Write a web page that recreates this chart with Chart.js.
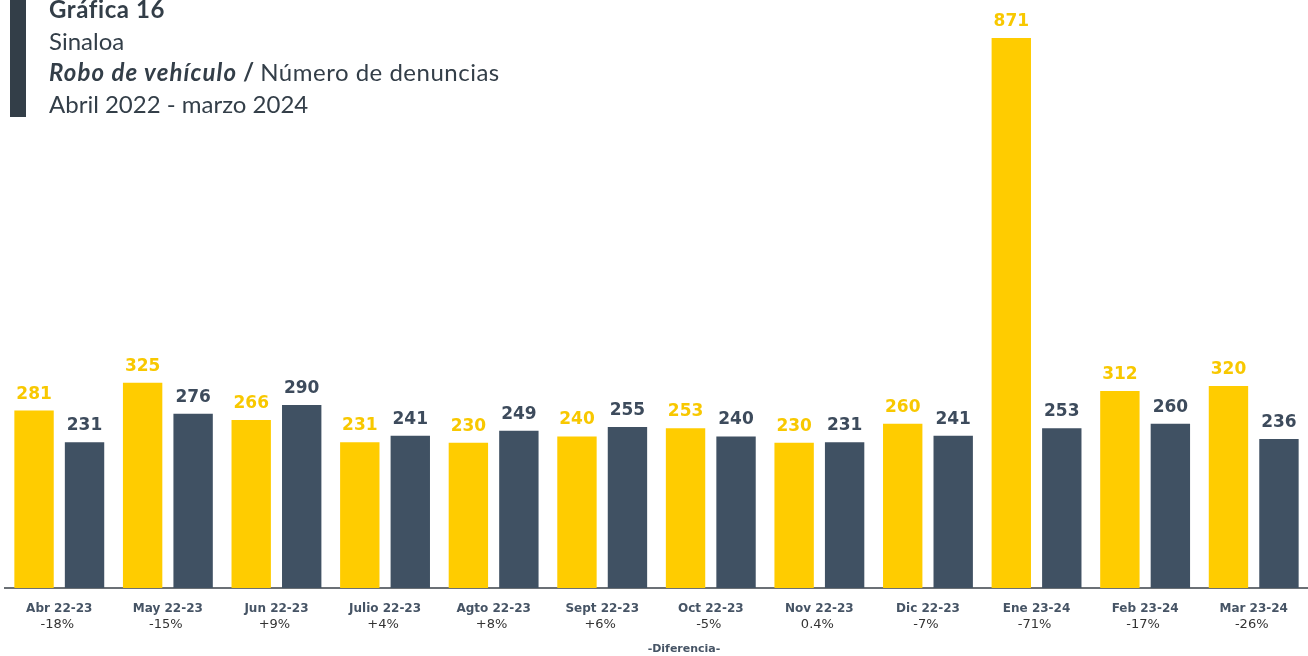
<!DOCTYPE html>
<html lang="es">
<head>
<meta charset="utf-8">
<title>Gráfica 16 - Sinaloa - Robo de vehículo</title>
<script src="https://cdn.jsdelivr.net/npm/chart.js@4/dist/chart.umd.min.js"></script>
<style>
    body { margin: 0; background: #fff; }
    #wrap { position: relative; width: 1308px; height: 656px; overflow: hidden; }
    #marker { position: absolute; left: 10px; top: 0; width: 16px; height: 117px; background: #333e48; }
    #heading {
        position: absolute; left: 49px; top: -7px;
        font-family: Lato, sans-serif; font-size: 24px; line-height: 31.6px; color: #333e48;
    }
    #heading b { font-weight: 700; }
    #heading .t1 b { letter-spacing: 0.6px; }
    #heading .t3 i { letter-spacing: 1.1px; }
    #heading .t3 span { letter-spacing: 0.5px; }
</style>
</head>
<body>
<div id="wrap">
    <div id="marker"></div>
    <div id="heading">
        <div class="t1"><b>Gráfica 16</b></div>
        <div>Sinaloa</div>
        <div class="t3"><b><i>Robo de vehículo</i> /</b> <span>Número de denuncias</span></div>
        <div>Abril 2022 - marzo 2024</div>
    </div>
    <canvas id="myChart" width="1308" height="656"></canvas>
</div>
<script>
let months = ['Abr 22-23', 'May 22-23', 'Jun 22-23', 'Julio 22-23', 'Agto 22-23', 'Sept 22-23',
    'Oct 22-23', 'Nov 22-23', 'Dic 22-23', 'Ene 23-24', 'Feb 23-24', 'Mar 23-24'];
let firstPeriod = [281, 325, 266, 231, 230, 240, 253, 230, 260, 871, 312, 320];
let secondPeriod = [231, 276, 290, 241, 249, 255, 240, 231, 241, 253, 260, 236];
let differences = ['-18%', '-15%', '+9%', '+4%', '+8%', '+6%', '-5%', '0.4%', '-7%', '-71%', '-17%', '-26%'];

let yellow = '#ffcc00';
let slate = '#405163';

// numbers on top of each bar
let barValues = {
    id: 'barValues',
    afterDatasetsDraw(chart) {
        let ctx = chart.ctx;
        ctx.save();
        ctx.font = 'bold 17px "DejaVu Sans"';
        ctx.textAlign = 'center';
        ctx.textBaseline = 'alphabetic';
        chart.data.datasets.forEach((dataset, d) => {
            ctx.fillStyle = d === 0 ? '#f8c800' : '#3d4b5c';
            chart.getDatasetMeta(d).data.forEach((bar, i) => {
                ctx.fillText(dataset.data[i], bar.x, bar.y - 12);
            });
        });
        ctx.restore();
    }
};

// month names + difference under the axis
let monthLabels = {
    id: 'monthLabels',
    afterDraw(chart) {
        let ctx = chart.ctx;
        let x = chart.scales.x;
        ctx.save();
        ctx.textAlign = 'center';
        ctx.textBaseline = 'alphabetic';
        months.forEach((m, i) => {
            let px = x.getPixelForValue(i);
            ctx.font = 'bold 12px "DejaVu Sans"';
            ctx.fillStyle = '#465465';
            ctx.fillText(m, px, 612);
            ctx.font = '13px "DejaVu Sans"';
            ctx.fillStyle = '#333333';
            ctx.fillText(differences[i], px - 2, 628);
        });
        ctx.font = 'bold 11px "DejaVu Sans"';
        ctx.fillStyle = '#465465';
        ctx.fillText('-Diferencia-', 684, 652);
        ctx.restore();
    }
};

let ctx = document.getElementById('myChart').getContext('2d');

let myChart = new Chart(ctx, {
    type: 'bar',
    data: {
        labels: months,
        datasets: [{
            label: 'Abril 2022 - marzo 2023',
            data: firstPeriod,
            backgroundColor: yellow,
            barPercentage: 0.78,
            categoryPercentage: 0.93,
        }, {
            label: 'Abril 2023 - marzo 2024',
            data: secondPeriod,
            backgroundColor: slate,
            barPercentage: 0.78,
            categoryPercentage: 0.93,
        }]
    },
    options: {
        responsive: false,
        animation: false,
        layout: {
            padding: { left: 5, right: 0, top: 38, bottom: 68 }
        },
        plugins: {
            legend: { display: false },
            tooltip: { enabled: false }
        },
        scales: {
            x: {
                grid: { display: false, drawTicks: false },
                ticks: { display: false },
                border: { display: true, color: '#6b7075', width: 2 }
            },
            y: {
                display: false,
                min: 0,
                max: 871
            }
        }
    },
    plugins: [barValues, monthLabels]
});
</script>
</body>
</html>
